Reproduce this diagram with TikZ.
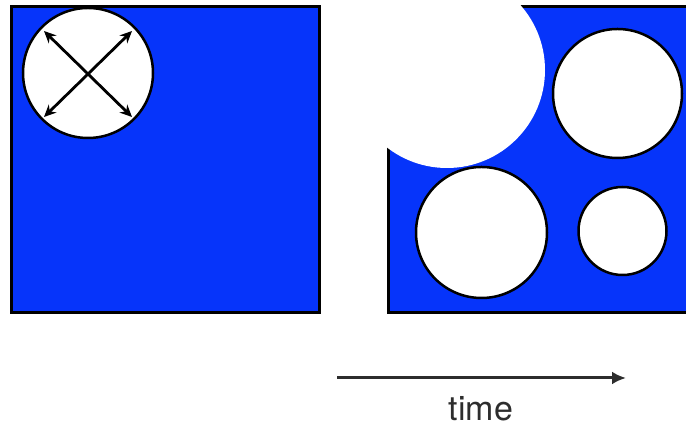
\documentclass[tikz,border=0pt]{standalone}
\usepackage{fontspec}
\setmainfont{TeX Gyre Heros}
\usetikzlibrary{arrows.meta}
\definecolor{fillblue}{RGB}{6,52,250}
\definecolor{txtgray}{RGB}{45,45,45}
\tikzset{
  panel/.style={fill=fillblue, draw=black, line width=2.5pt},
  bubble/.style={circle, fill=white, draw=black, line width=2.5pt, inner sep=0pt, outer sep=0pt},
  bigbubble/.style={circle, fill=white, inner sep=0pt, outer sep=0pt},
  xarrow/.style={line width=2.8pt, {Stealth[length=12pt,width=11pt]}-{Stealth[length=12pt,width=11pt]}},
  timearrow/.style={line width=3pt, draw=txtgray, -{Latex[length=14pt,width=13pt]}}
}
\begin{document}
\begin{tikzpicture}[x=1pt,y=1pt]
\useasboundingbox (0,0) rectangle (686,427);
\clip (0,0) rectangle (686,427);
% left panel
\node[panel, minimum width=308pt, minimum height=306pt, inner sep=0pt, anchor=south west] (left) at (10,113) {};
\node[bubble, minimum size=130pt] (c0) at (88,354) {};
\coordinate (a1) at (44,396);
\coordinate (a2) at (132,310);
\coordinate (a3) at (132,396);
\coordinate (a4) at (44,310);
\draw[xarrow] (a1) -- (a2);
\draw[xarrow] (a3) -- (a4);
% right panel
\node[panel, minimum width=310pt, minimum height=306pt, inner sep=0pt, anchor=south west] (right) at (387,113) {};
\node[bigbubble, minimum size=196pt] (c1) at (447,357) {};
\node[bubble, minimum size=129pt] (c2) at (617.5,333.5) {};
\node[bubble, minimum size=131pt] (c3) at (481.5,194.5) {};
\node[bubble, minimum size=88pt] (c4) at (622.5,196) {};
% time arrow
\coordinate (t0) at (337,49);
\coordinate (t1) at (626,49);
\draw[timearrow] (t0) -- (t1);
\node[anchor=base, text=txtgray, font=\fontsize{34}{40}\selectfont, inner sep=0pt] (time) at (481,6) {time};
\end{tikzpicture}
\end{document}
